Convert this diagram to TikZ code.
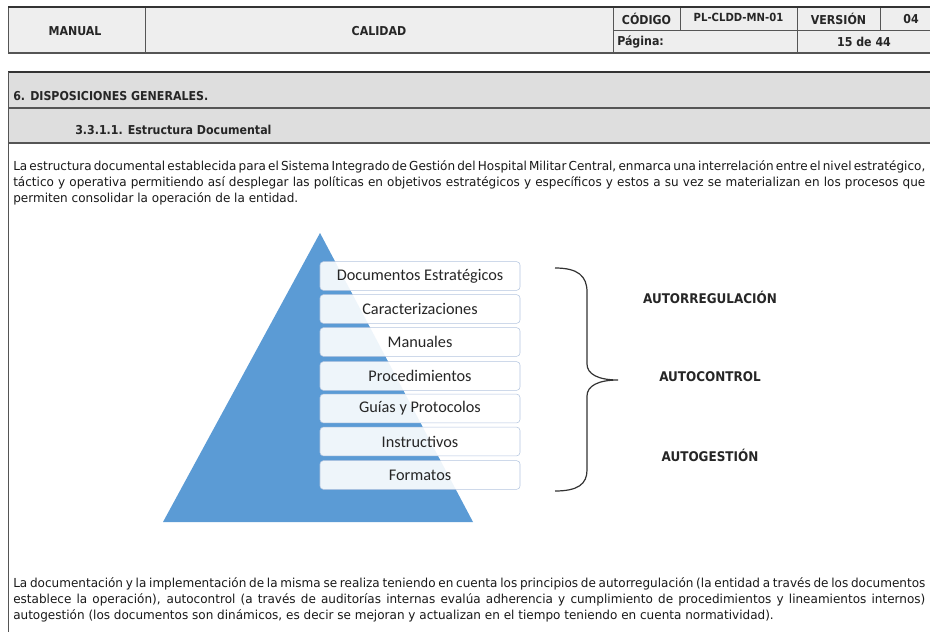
\documentclass[tikz,border=0pt]{standalone}
\usepackage{fontspec}
\setmainfont{DejaVu Sans Condensed}
\newfontfamily\calfont{Carlito}
\newfontfamily\bodyfont{DejaVu Sans}[FakeStretch=0.97]
\usepackage{xcolor}
\definecolor{pyrblue}{HTML}{5B9BD5}
\definecolor{boxline}{HTML}{B4C6E0}
\definecolor{headgray}{HTML}{EEEEEE}
\definecolor{bargray}{HTML}{DEDEDE}
\definecolor{rulegray}{HTML}{555555}
\definecolor{bracegray}{HTML}{333333}
% justified line of the body text
\newcommand{\lineaj}[1]{\makebox[684pt][s]{\spaceskip=0.15em plus 1em\relax #1}}

\begin{document}
\begin{tikzpicture}[x=0.75pt,y=0.75pt,yscale=-1,xscale=1,
    bodytxt/.style={anchor=base west,inner sep=0pt,font=\bodyfont\fontsize{9.3}{11}\selectfont,text=black!90},
    headtxt/.style={inner sep=0pt,font=\fontsize{9.2}{11}\selectfont\bfseries,text=black!85},
    lvlbox/.style={draw=boxline,fill=white,fill opacity=0.9,text opacity=1,rounded corners=2.5pt,minimum width=150pt,minimum height=21.5pt,inner sep=0pt,font=\calfont\fontsize{12.2}{14}\selectfont,text=black!85},
    principio/.style={inner sep=0pt,font=\fontsize{10}{12}\selectfont\bfseries,text=black!85}]
    \useasboundingbox (0,0) rectangle (930,631);
    \fill [white] (0,0) rectangle (930,631);

    %Shape: Header table
    \fill [headgray] (8,7) rectangle (945,53);
    \draw [rulegray,line width=0.6pt] (145,7) -- (145,53) (613,7) -- (613,53) (797,7) -- (797,53) (680,7) -- (680,30) (880,7) -- (880,30) (613,30) -- (945,30) (8,7) -- (8,53);
    \draw [black!80,line width=1.2pt] (8,7) -- (945,7);
    \draw [rulegray,line width=1.4pt] (8,53) -- (945,53);

    %Shape: Section bars
    \fill [bargray] (8,72) rectangle (945,143);
    \draw [black!80,line width=1.2pt] (8,72) -- (945,72);
    \draw [rulegray,line width=1.2pt] (8,108) -- (945,108);
    \draw [rulegray,line width=1.2pt] (8,143) -- (945,143);
    \draw [rulegray,line width=0.6pt] (8,72) -- (8,640);

    % Text Node
    \node [headtxt] (manual) at (75,31) {MANUAL};
    \node [headtxt] (calidad) at (379,31) {CALIDAD};
    \node [headtxt] (codigo) at (646.5,18.5) {CÓDIGO};
    \node [headtxt,font=\fontsize{8.4}{10}\selectfont\bfseries] (codval) at (738.5,17.5) {PL-CLDD-MN-01};
    \node [headtxt] (version) at (838.5,19) {VERSIÓN};
    \node [headtxt] (vernum) at (911,19) {04};
    \node [headtxt,anchor=west] (pagina) at (617,41.5) {Página:};
    \node [headtxt] (pagnum) at (864,41.5) {15 de 44};

    % Text Node
    \node [headtxt,anchor=base west] (seccion) at (13,101) {6. DISPOSICIONES GENERALES.};
    \node [headtxt,anchor=base west] (subseccion) at (75,135) {3.3.1.1. Estructura Documental};

    % Text Node
    \node [bodytxt] (intro1) at (13,170) {\lineaj{La estructura documental establecida para el Sistema Integrado de Gestión del Hospital Militar Central, enmarca una interrelación entre el nivel estratégico,}};
    \node [bodytxt] (intro2) at (13,186) {\lineaj{táctico y operativa permitiendo así desplegar las políticas en objetivos estratégicos y específicos y estos a su vez se materializan en los procesos que}};
    \node [bodytxt] (intro3) at (13,202) {permiten consolidar la operación de la entidad.};

    %Shape: Pyramid
    \fill [pyrblue] (320,233) -- (473,522) -- (163,522) -- cycle;

    % Level boxes
    \node [lvlbox] (docest) at (420,276) {Documentos Estratégicos};
    \node [lvlbox] (caract) at (420,309) {Caracterizaciones};
    \node [lvlbox] (manuales) at (420,342) {Manuales};
    \node [lvlbox] (proced) at (420,376) {Procedimientos};
    \node [lvlbox] (guias) at (420,408.5) {Guías y Protocolos};
    \node [lvlbox] (instruc) at (420,441.5) {Instructivos};
    \node [lvlbox] (formatos) at (420,475) {Formatos};

    %Shape: Brace
    \draw [bracegray,line width=0.9pt] (555,268) .. controls (578,268) and (587,276) .. (587,292) -- (587,364) .. controls (587,374) and (598,380) .. (618,380) .. controls (598,380) and (587,386) .. (587,396) -- (587,470) .. controls (587,484) and (578,491) .. (555,491);

    % Text Node
    \node [principio] (autorreg) at (710,297) {AUTORREGULACIÓN};
    \node [principio] (autocont) at (710,377) {AUTOCONTROL};
    \node [principio] (autoges) at (710,455) {AUTOGESTIÓN};

    % Text Node
    \node [bodytxt] (cierre1) at (13,587) {\lineaj{La documentación y la implementación de la misma se realiza teniendo en cuenta los principios de autorregulación (la entidad a través de los documentos}};
    \node [bodytxt] (cierre2) at (13,603) {\lineaj{establece la operación), autocontrol (a través de auditorías internas evalúa adherencia y cumplimiento de procedimientos y lineamientos internos)}};
    \node [bodytxt] (cierre3) at (13,619) {autogestión (los documentos son dinámicos, es decir se mejoran y actualizan en el tiempo teniendo en cuenta normatividad).};

\end{tikzpicture}
\end{document}
